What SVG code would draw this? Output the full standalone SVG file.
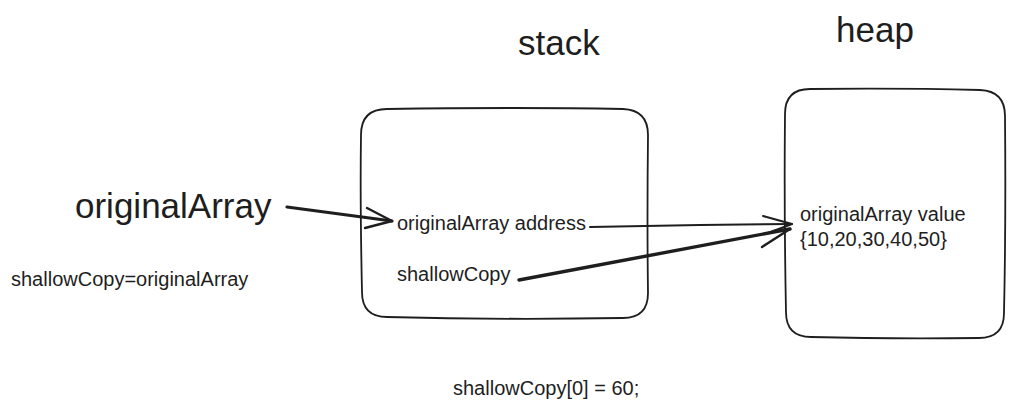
<svg xmlns="http://www.w3.org/2000/svg" width="1014" height="410" viewBox="0 0 1014 410">
<style>
text{font-family:"Liberation Sans",Arial,Helvetica,sans-serif;fill:#1e1e1e}
.big{font-size:35px}
.lbl{font-size:20px}
.box{fill:none;stroke:#1e1e1e;stroke-width:1.8;stroke-linecap:round;stroke-linejoin:round}
.ln{fill:none;stroke:#1e1e1e;stroke-linecap:round;stroke-linejoin:round}
</style>
<rect width="1014" height="410" fill="#ffffff"/>
<g id="title-stack"><text class="big" x="518" y="55">stack</text></g>
<g id="title-heap"><text class="big" x="836" y="42">heap</text></g>
<g id="originalArray"><text class="big" x="75" y="218">originalArray</text></g>
<g id="assign-note"><text class="lbl" x="11" y="286">shallowCopy=originalArray</text></g>
<g id="stack">
<path class="box" d="M387 109 Q520 107 623 109 Q648 110 648 135 Q647 220 648 293 Q648 318 623 318 Q500 320 387 317 Q362 317 362 292 Q360 200 361 135 Q361 109 387 109 Z"/>
<text class="lbl" x="397" y="230">originalArray address</text>
<text class="lbl" x="397" y="281">shallowCopy</text>
</g>
<g id="heap">
<path class="box" d="M810 89 Q900 88 980 90 Q1005 91 1005 116 Q1006 220 1004 313 Q1004 338 979 338 Q890 339 811 337 Q786 337 786 312 Q784 210 785 114 Q785 89 810 89 Z"/>
<text class="lbl" x="800" y="221">originalArray value</text>
<text class="lbl" x="800" y="246">{10,20,30,40,50}</text>
</g>
<g id="connectors">
<path class="ln" stroke-width="3.2" d="M287 207 L392 221"/>
<path class="ln" stroke-width="2.4" d="M367 208 L392 221 L365 228"/>
<path class="ln" stroke-width="2" d="M590 227 L700 225 L792 224"/>
<path class="ln" stroke-width="2" d="M763 216 L792 224 L768 233"/>
<path class="ln" stroke-width="3.4" d="M519 280 L790 229"/>
<path class="ln" stroke-width="2.4" d="M774 231 L790 229 L762 247"/>
</g>
<g id="mutation-note"><text class="lbl" x="453" y="395">shallowCopy[0] = 60;</text></g>
</svg>
